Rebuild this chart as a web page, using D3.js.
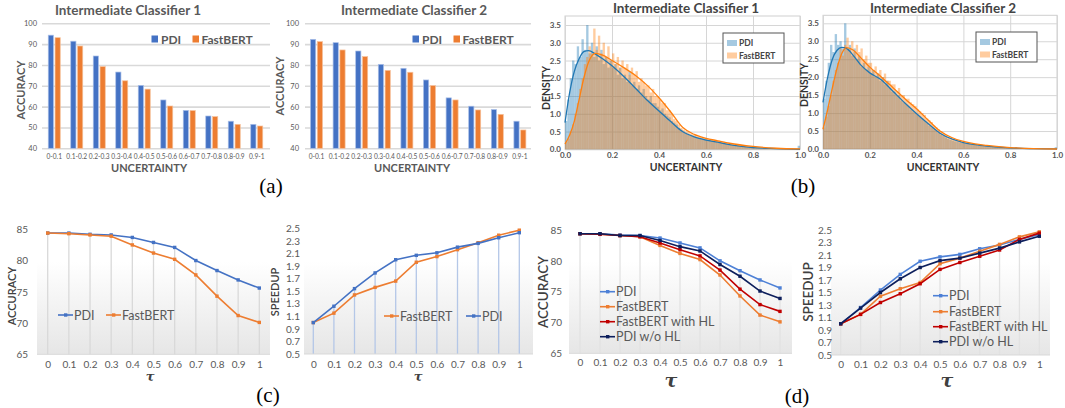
<!DOCTYPE html>
<html>
<head>
<meta charset="utf-8">
<script src="https://cdn.jsdelivr.net/npm/d3@7"></script>
<style>
body { margin: 0; background: #fff; }
</style>
</head>
<body>
<div id="chart"></div>
<script>
// ---------- data ----------
var uncBins = ["0-0.1", "0.1-0.2", "0.2-0.3", "0.3-0.4", "0.4-0.5", "0.5-0.6", "0.6-0.7", "0.7-0.8", "0.8-0.9", "0.9-1"];
var accTicks = [40, 50, 60, 70, 80, 90, 100];
var pdiAcc1 = [94.3, 91.4, 84.3, 76.6, 70.2, 63.2, 58.2, 55.5, 53.0, 51.5];
var fbAcc1 = [93.1, 89.1, 79.2, 72.4, 68.4, 60.3, 58.1, 55.2, 51.5, 50.7];
var pdiAcc2 = [92.3, 90.7, 86.7, 80.3, 78.4, 72.8, 64.2, 60.2, 58.6, 53.0];
var fbAcc2 = [91.2, 87.2, 84.0, 77.4, 76.5, 70.1, 63.2, 58.4, 56.3, 48.8];

// histogram bins of width 0.01 from 0 to 1
var densTicks = [0, 0.5, 1, 1.5, 2, 2.5, 3, 3.5];
var uncTicks = [0, 0.2, 0.4, 0.6, 0.8, 1];
var pdiHist1 = [0.8, 1.4, 2.0, 2.5, 2.4, 2.9, 2.6, 3.1, 2.8, 3.5,
  2.7, 3.0, 2.6, 2.9, 2.5, 2.8, 2.4, 2.6, 2.3, 2.5,
  2.3, 2.4, 2.1, 2.3, 2.0, 2.1, 1.9, 2.2, 1.8, 1.9,
  1.7, 1.8, 1.6, 1.7, 1.5, 1.4, 1.5, 1.3, 1.3, 1.2,
  1.1, 1.15, 1.0, 0.95, 0.9, 0.8, 0.75, 0.7, 0.6, 0.55,
  0.5, 0.45, 0.42, 0.4, 0.36, 0.35, 0.32, 0.3, 0.3, 0.28,
  0.27, 0.26, 0.24, 0.23, 0.22, 0.2, 0.19, 0.17, 0.16, 0.14,
  0.13, 0.12, 0.11, 0.1, 0.09, 0.08, 0.07, 0.06, 0.06, 0.05,
  0.05, 0.04, 0.04, 0.03, 0.03, 0.03, 0.02, 0.02, 0.02, 0.02,
  0.01, 0.01, 0.01, 0.01, 0.01, 0.01, 0.01, 0.0, 0.01, 0.1];
var fbHist1 = [0.2, 0.3, 0.5, 0.7, 1.0, 1.3, 1.7, 2.0, 2.4, 2.6,
  2.9, 2.7, 3.4, 2.8, 3.2, 2.7, 3.0, 2.6, 2.9, 2.5,
  2.7, 2.4, 2.6, 2.3, 2.5, 2.3, 2.4, 2.1, 2.3, 2.1,
  2.2, 1.9, 2.0, 1.9, 1.8, 1.8, 1.6, 1.7, 1.5, 1.5,
  1.4, 1.3, 1.3, 1.1, 1.1, 1.0, 0.85, 0.8, 0.7, 0.6,
  0.55, 0.5, 0.48, 0.44, 0.42, 0.4, 0.36, 0.35, 0.33, 0.32,
  0.3, 0.29, 0.27, 0.26, 0.25, 0.24, 0.22, 0.21, 0.19, 0.18,
  0.16, 0.15, 0.14, 0.12, 0.11, 0.1, 0.09, 0.08, 0.08, 0.07,
  0.06, 0.05, 0.05, 0.04, 0.04, 0.03, 0.03, 0.02, 0.02, 0.02,
  0.02, 0.01, 0.01, 0.01, 0.01, 0.01, 0.01, 0.01, 0.0, 0.0];
var pdiHist2 = [1.4, 1.9, 2.4, 2.9, 2.7, 3.2, 2.9, 3.0, 2.8, 3.5,
  2.8, 2.9, 2.6, 2.8, 2.5, 2.6, 2.3, 2.4, 2.2, 2.3,
  2.1, 2.2, 2.0, 2.1, 1.9, 2.0, 1.8, 1.9, 1.7, 1.6,
  1.6, 1.5, 1.5, 1.35, 1.3, 1.25, 1.2, 1.1, 1.05, 1.0,
  0.95, 0.9, 0.85, 0.78, 0.72, 0.65, 0.6, 0.55, 0.5, 0.45,
  0.4, 0.36, 0.32, 0.28, 0.25, 0.23, 0.21, 0.2, 0.18, 0.17,
  0.16, 0.15, 0.14, 0.13, 0.12, 0.11, 0.1, 0.1, 0.09, 0.08,
  0.08, 0.07, 0.06, 0.06, 0.05, 0.05, 0.04, 0.04, 0.03, 0.03,
  0.03, 0.02, 0.05, 0.02, 0.02, 0.01, 0.01, 0.01, 0.01, 0.01,
  0.01, 0.01, 0.01, 0.0, 0.0, 0.0, 0.01, 0.0, 0.0, 0.05];
var fbHist2 = [0.6, 0.9, 1.2, 1.5, 1.9, 2.2, 2.4, 2.8, 2.6, 2.9,
  3.1, 2.8, 3.0, 2.7, 2.9, 2.7, 2.8, 2.5, 2.6, 2.4,
  2.4, 2.2, 2.3, 2.1, 2.2, 2.0, 2.1, 1.9, 1.9, 1.8,
  1.8, 1.6, 1.7, 1.5, 1.5, 1.4, 1.4, 1.3, 1.25, 1.2,
  1.1, 1.05, 1.0, 0.95, 0.85, 0.8, 0.75, 0.65, 0.6, 0.55,
  0.5, 0.45, 0.4, 0.35, 0.32, 0.28, 0.26, 0.24, 0.22, 0.2,
  0.19, 0.17, 0.16, 0.15, 0.14, 0.13, 0.12, 0.11, 0.1, 0.1,
  0.09, 0.08, 0.08, 0.07, 0.06, 0.06, 0.05, 0.05, 0.04, 0.04,
  0.03, 0.03, 0.03, 0.02, 0.02, 0.02, 0.02, 0.01, 0.03, 0.01,
  0.01, 0.01, 0.01, 0.01, 0.0, 0.0, 0.0, 0.0, 0.0, 0.0];

// density curves
var kdeX = [0, 0.02, 0.04, 0.06, 0.08, 0.1, 0.13, 0.16, 0.2, 0.25, 0.3, 0.35, 0.4, 0.45, 0.5, 0.55, 0.6, 0.65, 0.7, 0.8, 0.9, 1.0];
var pdiKde1 = [0.75, 1.6, 2.2, 2.55, 2.75, 2.78, 2.68, 2.55, 2.35, 2.05, 1.72, 1.38, 1.08, 0.78, 0.5, 0.35, 0.26, 0.2, 0.13, 0.05, 0.02, 0.0];
var fbKde1 = [0.15, 0.4, 0.8, 1.4, 2.0, 2.45, 2.7, 2.65, 2.5, 2.3, 2.08, 1.8, 1.45, 1.05, 0.62, 0.42, 0.31, 0.24, 0.17, 0.08, 0.03, 0.01];
var pdiKde2 = [1.3, 2.0, 2.5, 2.75, 2.83, 2.8, 2.6, 2.35, 2.12, 1.92, 1.6, 1.28, 0.98, 0.7, 0.44, 0.28, 0.18, 0.12, 0.08, 0.03, 0.01, 0.0];
var fbKde2 = [0.55, 1.1, 1.7, 2.25, 2.65, 2.82, 2.75, 2.55, 2.28, 2.0, 1.7, 1.4, 1.12, 0.8, 0.5, 0.32, 0.21, 0.14, 0.1, 0.04, 0.01, 0.0];

// threshold sweeps
var taus = [0, 0.1, 0.2, 0.3, 0.4, 0.5, 0.6, 0.7, 0.8, 0.9, 1];
var tauLabels = ["0", "0.1", "0.2", "0.3", "0.4", "0.5", "0.6", "0.7", "0.8", "0.9", "1"];
var accTicks2 = [65, 70, 75, 80, 85];
var speedTicks = [0.5, 0.7, 0.9, 1.1, 1.3, 1.5, 1.7, 1.9, 2.1, 2.3, 2.5];
var pdiAcc = [84.4, 84.4, 84.2, 84.1, 83.7, 82.9, 82.1, 80.0, 78.4, 76.9, 75.6];
var fbAcc = [84.4, 84.3, 84.1, 83.9, 82.5, 81.2, 80.2, 77.7, 74.3, 71.2, 70.1];
var fbHlAcc = [84.4, 84.3, 84.1, 83.9, 82.9, 81.8, 80.8, 78.5, 75.4, 72.9, 71.8];
var pdiNoHlAcc = [84.4, 84.4, 84.1, 84.1, 83.3, 82.3, 81.6, 79.4, 77.5, 75.1, 73.9];
var pdiSpeed = [1.0, 1.26, 1.54, 1.79, 2.0, 2.07, 2.11, 2.2, 2.26, 2.35, 2.43];
var fbSpeed = [1.0, 1.15, 1.44, 1.56, 1.66, 1.96, 2.05, 2.16, 2.27, 2.39, 2.47];
var fbHlSpeed = [1.0, 1.15, 1.34, 1.48, 1.64, 1.87, 1.98, 2.08, 2.18, 2.35, 2.45];
var pdiNoHlSpeed = [1.0, 1.25, 1.5, 1.72, 1.9, 2.01, 2.05, 2.13, 2.21, 2.31, 2.4];

var BLUE = "#4472c4", ORANGE = "#ed7d31", RED = "#c00000", NAVY = "#0d1f5c", LBLUE = "#4d80d6";
var SANS = "Lato, 'Open Sans', sans-serif";

var svg = d3.select("#chart")
  .append("svg")
  .attr("width", 1065)
  .attr("height", 408)
  .attr("font-family", SANS);

var defs = svg.append("defs");
var grad = defs.append("linearGradient").attr("id", "plotBg")
  .attr("x1", 0).attr("y1", 0).attr("x2", 0).attr("y2", 1);
grad.append("stop").attr("offset", "0%").attr("stop-color", "#ffffff");
grad.append("stop").attr("offset", "30%").attr("stop-color", "#ffffff");
grad.append("stop").attr("offset", "100%").attr("stop-color", "#e6e6e6");

// ---------- (a) bar charts ----------
function barPanel(o) {
  var g = svg.append("g");
  var x = d3.scaleBand().domain(uncBins).range([o.x0, o.x1]);
  var y = d3.scaleLinear().domain([40, 100]).range([148.3, 23.3]);

  g.append("g")
    .attr("transform", `translate(${o.gx0},0)`)
    .call(d3.axisLeft(y).tickValues(accTicks).tickSize(-(o.gx1 - o.gx0)).tickPadding(o.gx0 - o.labelX))
    .call(a => a.select(".domain").remove())
    .call(a => a.selectAll("line").attr("stroke", "#d9d9d9").attr("stroke-width", 1.6))
    .call(a => a.selectAll("text").attr("font-size", 7.5).attr("fill", "#595959").attr("font-family", SANS));

  g.append("g")
    .attr("transform", `translate(0,${y(40) + 3})`)
    .call(d3.axisBottom(x).tickSize(0).tickPadding(3))
    .call(a => a.select(".domain").remove())
    .call(a => a.selectAll("text").attr("font-size", 6.6).attr("fill", "#595959").attr("font-family", SANS));

  var bw = 5.2;
  g.selectAll(".pdi").data(o.pdi).enter().append("rect")
    .attr("x", (d, i) => x(uncBins[i]) + x.bandwidth() / 2 - bw - 0.8)
    .attr("y", d => y(d))
    .attr("width", bw)
    .attr("height", d => y(40) - y(d))
    .attr("fill", BLUE).attr("stroke", "#a9bfe8").attr("stroke-width", 0.7);
  g.selectAll(".fb").data(o.fb).enter().append("rect")
    .attr("x", (d, i) => x(uncBins[i]) + x.bandwidth() / 2 + 0.8)
    .attr("y", d => y(d))
    .attr("width", bw)
    .attr("height", d => y(40) - y(d))
    .attr("fill", ORANGE).attr("stroke", "#f6c19c").attr("stroke-width", 0.7);

  g.append("text").attr("x", o.titleX).attr("y", 15).attr("text-anchor", "middle")
    .attr("font-size", 13.5).attr("font-weight", "bold").attr("fill", "#595959").text(o.title);
  g.append("text").attr("x", o.axX).attr("y", 172).attr("text-anchor", "middle")
    .attr("font-size", 11).attr("font-weight", "bold").attr("fill", "#595959").text("UNCERTAINTY");
  g.append("text").attr("transform", `translate(${o.ayX},${o.ayY}) rotate(-90)`).attr("text-anchor", "middle")
    .attr("font-size", 11).attr("font-weight", "bold").attr("fill", "#595959").text("ACCURACY");

  // legend
  g.append("rect").attr("x", o.legX).attr("y", 35.5).attr("width", 6.5).attr("height", 7).attr("fill", BLUE);
  g.append("text").attr("x", o.legX + 9.5).attr("y", 43.5).attr("font-size", 12).attr("font-weight", "bold")
    .attr("fill", "#595959").text("PDI");
  g.append("rect").attr("x", o.legX + 41).attr("y", 35.5).attr("width", 6.5).attr("height", 7).attr("fill", ORANGE);
  g.append("text").attr("x", o.legX + 50).attr("y", 43.5).attr("font-size", 12).attr("font-weight", "bold")
    .attr("fill", "#595959").text("FastBERT");
}

barPanel({ x0: 43, x1: 268, gx0: 42, gx1: 270, labelX: 37, pdi: pdiAcc1, fb: fbAcc1,
  title: "Intermediate Classifier 1", titleX: 128, axX: 149, ayX: 25, ayY: 90, legX: 151.5 });
barPanel({ x0: 305.2, x1: 531.2, gx0: 305, gx1: 531, labelX: 299, pdi: pdiAcc2, fb: fbAcc2,
  title: "Intermediate Classifier 2", titleX: 414, axX: 412, ayX: 284, ayY: 86, legX: 412.5 });

// ---------- (b) histograms ----------
function histPanel(o) {
  var g = svg.append("g");
  var x = d3.scaleLinear().domain([0, 1]).range([o.x0, o.x1]);
  var y = d3.scaleLinear().domain([0, 3.5]).range([o.yb, o.yt]);
  var top = o.frameTop;

  g.append("rect").attr("x", o.x0).attr("y", top).attr("width", o.x1 - o.x0).attr("height", o.yb - top)
    .attr("fill", "#fff").attr("stroke", "#cfcfcf").attr("stroke-width", 1);

  g.append("g").attr("transform", `translate(${o.x0},0)`)
    .call(d3.axisLeft(y).tickValues(densTicks).tickFormat(d3.format(".1f")).tickSize(-(o.x1 - o.x0)).tickPadding(4))
    .call(a => a.select(".domain").remove())
    .call(a => a.selectAll("line").attr("stroke", "#d6d6d6").attr("stroke-width", 1))
    .call(a => a.selectAll("text").attr("font-size", 8).attr("font-weight", "bold").attr("fill", "#555").attr("font-family", SANS));
  g.append("g").attr("transform", `translate(0,${o.yb})`)
    .call(d3.axisBottom(x).tickValues(uncTicks).tickFormat(d3.format(".1f")).tickSize(-(o.yb - top)).tickPadding(3))
    .call(a => a.select(".domain").remove())
    .call(a => a.selectAll("line").attr("stroke", "#d6d6d6").attr("stroke-width", 1))
    .call(a => a.selectAll("text").attr("font-size", 8).attr("font-weight", "bold").attr("fill", "#555").attr("font-family", SANS));

  var bin = 0.01;
  [[o.pdi, "#1f77b4"], [o.fb, "#ff7f0e"]].forEach(function (s) {
    g.append("g").selectAll("rect").data(s[0]).enter().append("rect")
      .attr("x", (d, i) => x(i * bin))
      .attr("y", d => y(d))
      .attr("width", x(bin) - x(0))
      .attr("height", d => o.yb - y(d))
      .attr("fill", s[1]).attr("fill-opacity", 0.4);
  });

  var line = d3.line().x((d, i) => x(kdeX[i])).y(d => y(d)).curve(d3.curveMonotoneX);
  g.append("path").datum(o.pdiK).attr("d", line).attr("fill", "none").attr("stroke", "#1f77b4").attr("stroke-width", 1.3);
  g.append("path").datum(o.fbK).attr("d", line).attr("fill", "none").attr("stroke", "#ff7f0e").attr("stroke-width", 1.3);

  // legend
  var lx = o.legX, ly = o.legY;
  g.append("rect").attr("x", lx).attr("y", ly).attr("width", 61).attr("height", 30)
    .attr("fill", "#fff").attr("stroke", "#555").attr("stroke-width", 1);
  g.append("rect").attr("x", lx + 4).attr("y", ly + 7).attr("width", 10).attr("height", 6)
    .attr("fill", "#1f77b4").attr("fill-opacity", 0.4);
  g.append("text").attr("x", lx + 16).attr("y", ly + 13).attr("font-size", 8.5).attr("font-weight", "bold")
    .attr("fill", "#444").text("PDI");
  g.append("rect").attr("x", lx + 4).attr("y", ly + 19.5).attr("width", 10).attr("height", 6)
    .attr("fill", "#ff7f0e").attr("fill-opacity", 0.4);
  g.append("text").attr("x", lx + 16).attr("y", ly + 26).attr("font-size", 8.5).attr("font-weight", "bold")
    .attr("fill", "#444").text("FastBERT");

  g.append("text").attr("x", o.titleX).attr("y", 12.5).attr("text-anchor", "middle")
    .attr("font-size", 13.5).attr("font-weight", "bold").attr("fill", "#444").text(o.title);
  g.append("text").attr("x", o.titleX).attr("y", 171).attr("text-anchor", "middle")
    .attr("font-size", 10.5).attr("font-weight", "bold").attr("fill", "#333").text("UNCERTAINTY");
  g.append("text").attr("transform", `translate(${o.ayX},${o.ayY}) rotate(-90)`).attr("text-anchor", "middle")
    .attr("font-size", 10.5).attr("font-weight", "bold").attr("fill", "#333").text("DENSITY");
}

histPanel({ x0: 565, x1: 800, yb: 149.3, yt: 25, frameTop: 16, pdi: pdiHist1, fb: fbHist1, pdiK: pdiKde1, fbK: fbKde1,
  legX: 723, legY: 33, title: "Intermediate Classifier 1", titleX: 686, ayX: 550, ayY: 88 });
histPanel({ x0: 823, x1: 1057, yb: 149, yt: 23.3, frameTop: 15.3, pdi: pdiHist2, fb: fbHist2, pdiK: pdiKde2, fbK: fbKde2,
  legX: 976, legY: 32, title: "Intermediate Classifier 2", titleX: 943, ayX: 808, ayY: 85 });

// ---------- (c)/(d) threshold sweeps ----------
function linePanel(o) {
  var g = svg.append("g");
  var x = d3.scaleLinear().domain([0, 1]).range([o.x0, o.x1]);
  var y = d3.scaleLinear().domain(o.yDomain).range(o.yRange);
  var yb = o.yRange[0];

  g.append("rect").attr("x", o.px0).attr("y", o.ptop).attr("width", o.px1 - o.px0).attr("height", yb - o.ptop)
    .attr("fill", "url(#plotBg)");

  // drop lines up to the highest series
  g.append("g").selectAll("line").data(taus).enter().append("line")
    .attr("x1", d => x(d)).attr("x2", d => x(d))
    .attr("y1", yb)
    .attr("y2", (d, i) => y(d3.max(o.series, s => s.values[i])))
    .attr("stroke", o.dropColor).attr("stroke-width", 1.3);

  g.append("line").attr("x1", o.px0).attr("x2", o.px1).attr("y1", yb).attr("y2", yb)
    .attr("stroke", "#d9d9d9").attr("stroke-width", 1);

  g.append("g").attr("transform", `translate(${o.px0},0)`)
    .call(d3.axisLeft(y).tickValues(o.ticks).tickFormat(o.fmt).tickSize(0).tickPadding(o.px0 - o.labelX))
    .call(a => a.select(".domain").remove())
    .call(a => a.selectAll("text").attr("font-size", 10).attr("fill", "#595959").attr("font-family", SANS));
  g.append("g").attr("transform", `translate(0,${yb})`)
    .call(d3.axisBottom(x).tickValues(taus).tickFormat((d, i) => tauLabels[i]).tickSize(0).tickPadding(o.xPad))
    .call(a => a.select(".domain").remove())
    .call(a => a.selectAll("text").attr("font-size", 10).attr("fill", "#595959").attr("font-family", SANS));

  var line = d3.line().x((d, i) => x(taus[i])).y(d => y(d));
  o.series.forEach(function (s) {
    g.append("path").datum(s.values).attr("d", line).attr("fill", "none")
      .attr("stroke", s.color).attr("stroke-width", 1.6);
    g.append("g").selectAll("rect").data(s.values).enter().append("rect")
      .attr("x", (d, i) => x(taus[i]) - 1.7).attr("y", d => y(d) - 1.7)
      .attr("width", 3.4).attr("height", 3.4).attr("fill", s.color);
  });

  o.legend.forEach(function (l) {
    var s = o.series.find(d => d.name === l.name);
    g.append("line").attr("x1", l.x).attr("x2", l.x + 15).attr("y1", l.y).attr("y2", l.y)
      .attr("stroke", s.color).attr("stroke-width", 1.6);
    g.append("rect").attr("x", l.x + 6).attr("y", l.y - 1.7).attr("width", 3.4).attr("height", 3.4).attr("fill", s.color);
    g.append("text").attr("x", l.x + 16).attr("y", l.y + 4.5).attr("font-size", o.legSize)
      .attr("fill", "#595959").text(l.name);
  });

  g.append("text").attr("transform", `translate(${o.ayX},${o.ayY}) rotate(-90)`).attr("text-anchor", "middle")
    .attr("font-size", o.aySize).attr("font-weight", o.ayWeight).attr("fill", "#404040").text(o.yTitle);
  g.append("text").attr("x", o.tauX).attr("y", o.tauY).attr("text-anchor", "middle")
    .attr("font-family", "'DejaVu Serif', serif").attr("font-style", "italic").attr("font-weight", "bold")
    .attr("font-size", o.tauSize).attr("fill", "#404040").text("\u03c4");
}

var f0 = d => String(d), f1 = d3.format(".1f");

linePanel({ x0: 47.7, x1: 259.3, yDomain: [65, 85], yRange: [354.3, 229.3], px0: 37, px1: 270, ptop: 222,
  ticks: accTicks2, fmt: f0, labelX: 28, xPad: 7, dropColor: "#d9d9d9",
  series: [{ name: "PDI", values: pdiAcc, color: BLUE }, { name: "FastBERT", values: fbAcc, color: ORANGE }],
  legend: [{ name: "PDI", x: 58, y: 315 }, { name: "FastBERT", x: 106, y: 315 }], legSize: 12.5,
  yTitle: "ACCURACY", ayX: 16, ayY: 296, aySize: 11, ayWeight: 600, tauX: 150, tauY: 381, tauSize: 13 });

linePanel({ x0: 313.3, x1: 519.3, yDomain: [0.5, 2.5], yRange: [354, 228.3], px0: 304, px1: 533, ptop: 222,
  ticks: speedTicks, fmt: f1, labelX: 300, xPad: 7, dropColor: "#b4c7e7",
  series: [{ name: "FastBERT", values: fbSpeed, color: ORANGE }, { name: "PDI", values: pdiSpeed, color: BLUE }],
  legend: [{ name: "FastBERT", x: 384, y: 316 }, { name: "PDI", x: 466, y: 316 }], legSize: 12.5,
  yTitle: "SPEEDUP", ayX: 279, ayY: 292, aySize: 11, ayWeight: 600, tauX: 418, tauY: 381, tauSize: 13 });

linePanel({ x0: 580, x1: 780, yDomain: [65, 85], yRange: [353.3, 230], px0: 569, px1: 792, ptop: 222,
  ticks: accTicks2, fmt: f0, labelX: 562, xPad: 6, dropColor: "#e2e2e2",
  series: [{ name: "PDI", values: pdiAcc, color: LBLUE }, { name: "FastBERT", values: fbAcc, color: ORANGE },
    { name: "FastBERT with HL", values: fbHlAcc, color: RED }, { name: "PDI w/o HL", values: pdiNoHlAcc, color: NAVY }],
  legend: [{ name: "PDI", x: 600, y: 291.7 }, { name: "FastBERT", x: 600, y: 306.7 },
    { name: "FastBERT with HL", x: 600, y: 321.7 }, { name: "PDI w/o HL", x: 600, y: 336.7 }], legSize: 12.5,
  yTitle: "ACCURACY", ayX: 548, ayY: 292, aySize: 13.5, ayWeight: 600, tauX: 671, tauY: 387, tauSize: 19 });

linePanel({ x0: 840.7, x1: 1039.3, yDomain: [0.5, 2.5], yRange: [355, 230], px0: 831, px1: 1050, ptop: 222,
  ticks: speedTicks, fmt: f1, labelX: 832, xPad: 6, dropColor: "#e2e2e2",
  series: [{ name: "PDI", values: pdiSpeed, color: LBLUE }, { name: "FastBERT", values: fbSpeed, color: ORANGE },
    { name: "FastBERT with HL", values: fbHlSpeed, color: RED }, { name: "PDI w/o HL", values: pdiNoHlSpeed, color: NAVY }],
  legend: [{ name: "PDI", x: 933, y: 295.7 }, { name: "FastBERT", x: 933, y: 311.7 },
    { name: "FastBERT with HL", x: 933, y: 326.7 }, { name: "PDI w/o HL", x: 933, y: 341.7 }], legSize: 12.5,
  yTitle: "SPEEDUP", ayX: 813, ayY: 292, aySize: 13.5, ayWeight: 600, tauX: 947, tauY: 387, tauSize: 19 });

// ---------- panel labels ----------
[["(a)", 271, 193], ["(b)", 803, 193], ["(c)", 268, 402], ["(d)", 797, 403]].forEach(function (p) {
  svg.append("text").attr("x", p[1]).attr("y", p[2]).attr("text-anchor", "middle")
    .attr("font-family", "'Liberation Serif', 'DejaVu Serif', serif").attr("font-size", 21).attr("fill", "#000").text(p[0]);
});
</script>
</body>
</html>
